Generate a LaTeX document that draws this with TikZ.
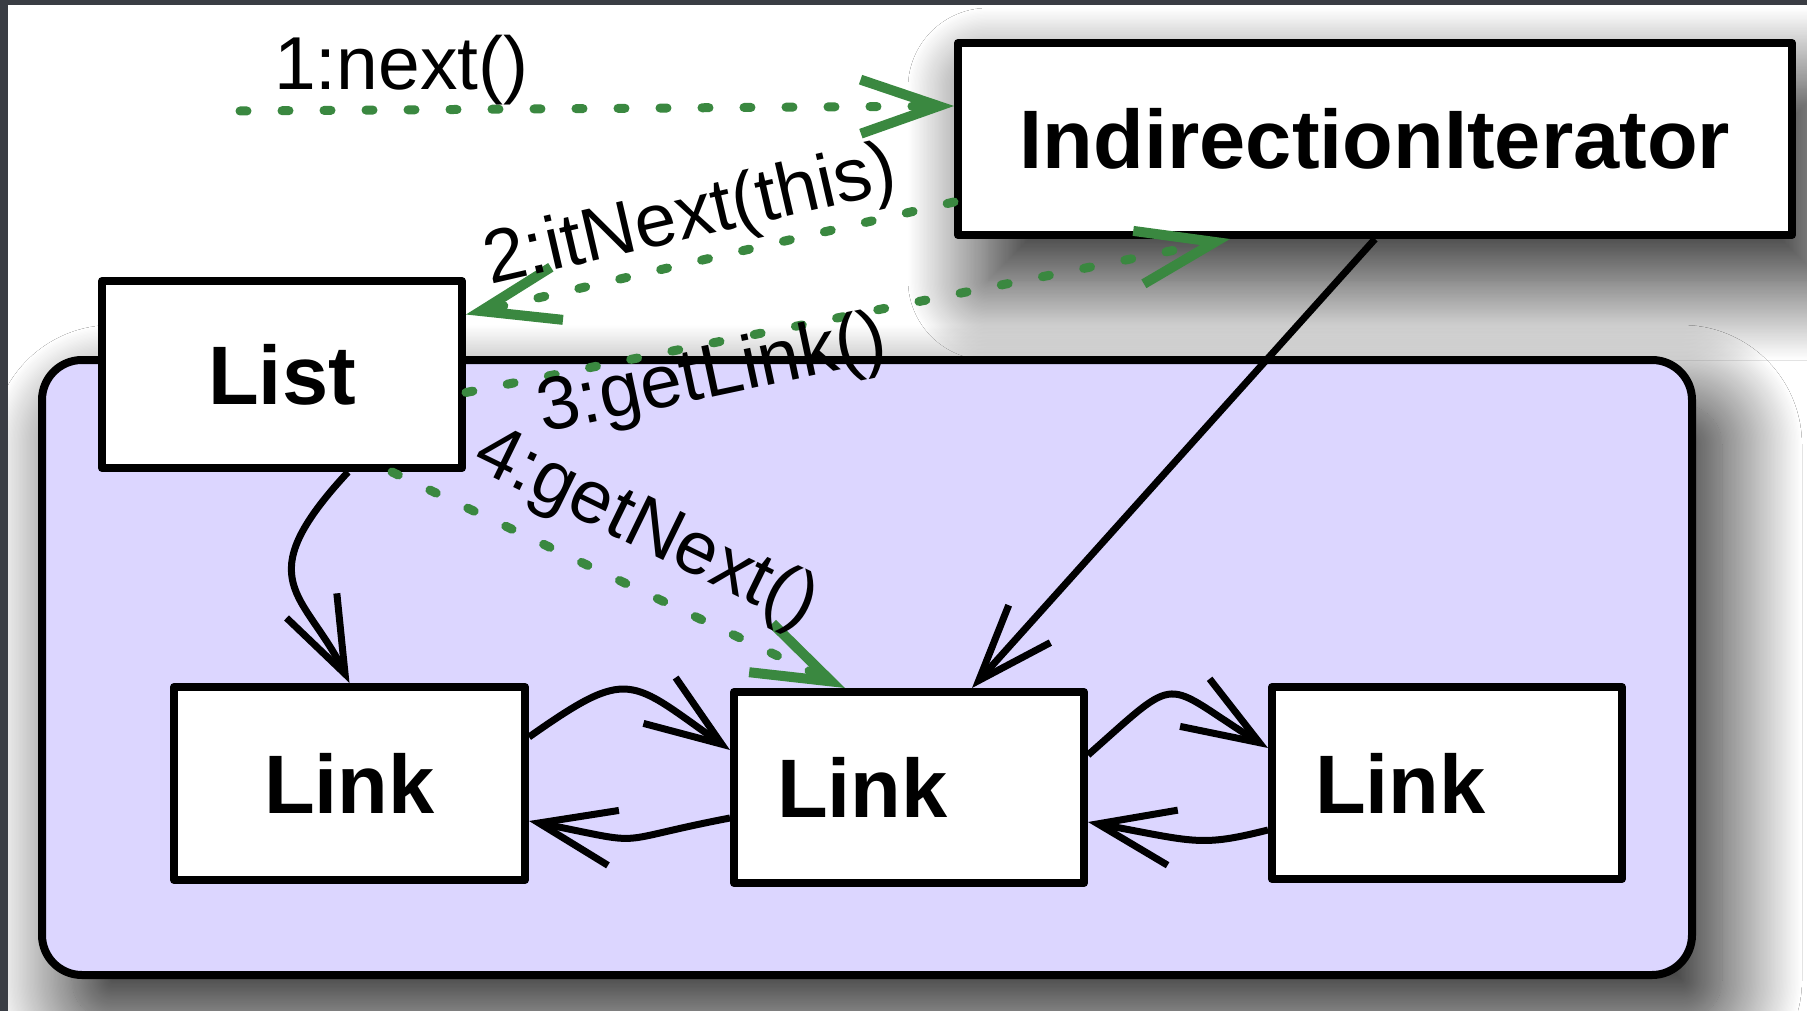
\documentclass[tikz,border=0pt]{standalone}
\usepackage{fontspec}
\setmainfont{Liberation Sans}
\usetikzlibrary{arrows.meta,shadows.blur,calc}
\definecolor{lav}{RGB}{220,214,255}
\definecolor{grn}{RGB}{58,136,64}
\definecolor{framec}{RGB}{58,61,68}
\begin{document}
\begin{tikzpicture}[x=1pt,y=-1pt,
  box/.style={draw=black, line width=8pt, fill=white, line join=round, inner sep=0pt,
    font=\fontsize{83}{90}\selectfont\bfseries},
  lbl/.style={font=\fontsize{75}{80}\selectfont, inner sep=0pt},
  msg/.style={draw=grn, line width=9pt, line cap=round, dash pattern=on 7pt off 35pt,
    -{Straight Barb[length=78pt,width=54pt,line width=10pt]}},
  refl/.style={draw=black, line width=7pt, -{Straight Barb[length=76pt,width=56pt]}},
  shad/.style={blur shadow={shadow xshift=30pt, shadow yshift=-45pt, shadow blur radius=80pt,
    shadow opacity=90, shadow blur steps=60}}
]
\useasboundingbox (0,0) rectangle (1807,1011);
\fill[white] (0,0) rectangle (1807,1011);

% container
\node[box, shad, fill=lav, rounded corners=40pt, minimum width=1650pt, minimum height=615pt] (cont) at (867,667.5) {};

% boxes
\node[box, shad, minimum width=834pt, minimum height=192pt] (ii) at (1375,139) {IndirectionIterator};
\node[box, minimum width=360pt, minimum height=187pt] (list) at (282,374.5) {List};
\node[box, minimum width=351pt, minimum height=193pt] (l1) at (349.5,783.5) {Link};
\node[box, minimum width=350pt, minimum height=191pt, text width=264pt, align=left] (l2) at (909,787.5) {Link};
\node[box, minimum width=350pt, minimum height=192pt, text width=264pt, align=left] (l3) at (1447,783) {Link};

% messages
\coordinate (s1) at (240,111);
\draw[msg] (s1) -- ([yshift=33pt]ii.west);
\draw[msg] ([yshift=-63pt]ii.west) -- ([yshift=60pt]list.east);
\draw[msg] ([yshift=-18pt]list.east) -- ([xshift=-145pt]ii.south);
\draw[msg] ([xshift=110pt]list.south) -- ([xshift=-64pt]l2.north);

% references
\draw[refl] (ii.south) -- ([xshift=63pt]l2.north);
\draw[refl] ([xshift=66pt]list.south) .. controls +(-102,110) and +(-44,-90) .. (l1.north);
\draw[refl] ([yshift=46.5pt]l1.east) .. controls +(101,-71) and +(-101,-71) .. ([yshift=37.5pt]l2.west);
\draw[refl] ([yshift=-30.5pt]l2.west) .. controls +(-125,24) and +(125,25) .. ([yshift=-37.5pt]l1.east);
\draw[refl] ([yshift=32.5pt]l2.east) .. controls +(95,-84) and +(-108,-67) .. ([yshift=35pt]l3.west);
\draw[refl] ([yshift=-47pt]l3.west) .. controls +(-68,17) and +(108,20) .. ([yshift=-34.5pt]l2.east);

% labels
\node[lbl, anchor=base west] (t1) at (274,90) {1:next()};
\node[lbl, anchor=base west, rotate=13] (t2) at (490,285) {2:itNext(this)};
\node[lbl, anchor=base west, rotate=12] (t3) at (543,433) {3:getLink()};
\node[lbl, anchor=base west, rotate=-26] (t4) at (470,466) {4:getNext()};

% window frame
\fill[framec] (0,0) rectangle (1807,5);
\fill[framec] (0,0) rectangle (8,1011);
\end{tikzpicture}
\end{document}
